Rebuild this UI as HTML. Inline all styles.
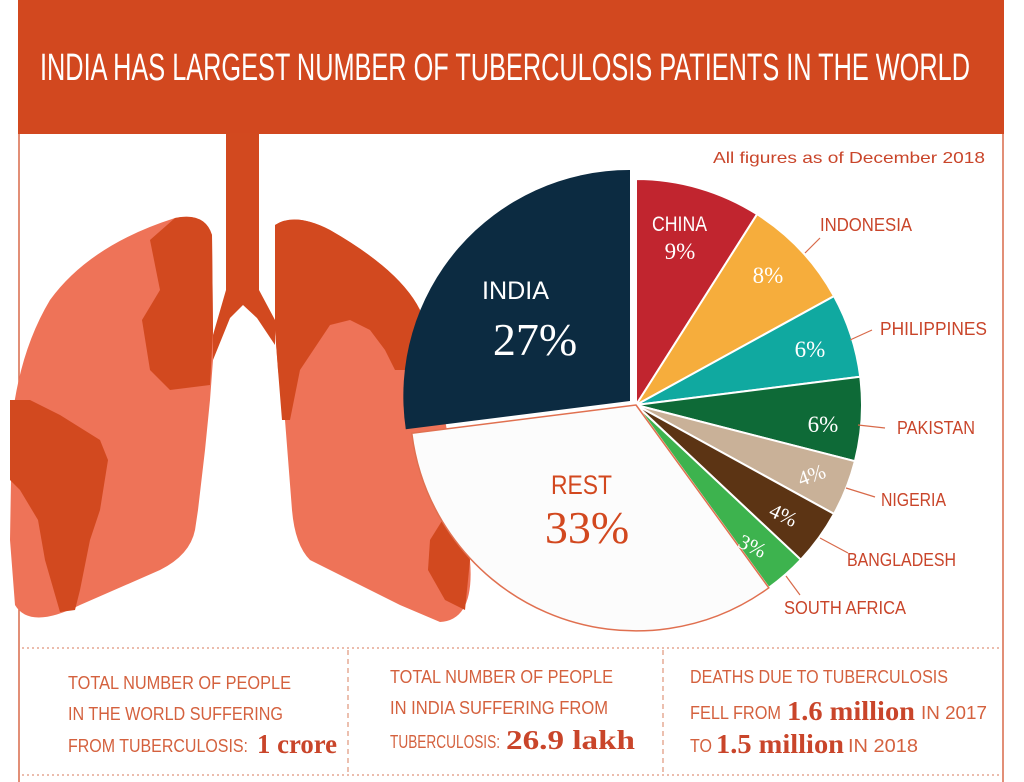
<!DOCTYPE html>
<html><head><meta charset="utf-8"><style>
html,body{margin:0;padding:0;background:#fff}
svg{display:block}
.n{font-family:"Liberation Sans Narrow","Liberation Sans",sans-serif}
.s{font-family:"Liberation Serif",serif}
</style></head><body>
<svg width="1024" height="782" viewBox="0 0 1024 782">
<rect width="1024" height="782" fill="#fff"/>
<rect x="18" y="0" width="986" height="134" fill="#d2481f"/>
<text x="505" y="80" text-anchor="middle" class="n" font-size="38" fill="#fff" textLength="930" lengthAdjust="spacingAndGlyphs">INDIA HAS LARGEST NUMBER OF TUBERCULOSIS PATIENTS IN THE WORLD</text>
<line x1="19" y1="134" x2="19" y2="782" stroke="#d86a4a" stroke-width="1.5"/>
<line x1="1003" y1="134" x2="1003" y2="782" stroke="#d86a4a" stroke-width="1.5"/>
<text x="713" y="163" class="n" font-size="16" fill="#c9452a" textLength="272" lengthAdjust="spacingAndGlyphs">All figures as of December 2018</text>

<!-- lungs -->
<rect x="226" y="133" width="33" height="170" fill="#d2491f"/>
<path d="M226 290 L213 335 L213 360 L230 318 L243 305 L257 318 L275 345 L275 320 L259 290 Z" fill="#d2491f"/>
<path d="M175 218 Q205 212 212 235 L213 330 L213 360 L210 400 L205 450 L198 510 L195 530 Q190 555 160 570 L80 605 Q30 630 15 605 L10 540 L12 420 Q20 350 50 300 Q90 245 175 218 Z" fill="#ee7358"/>
<path d="M150 240 L175 218 Q205 212 212 235 L213 330 L210 385 L170 390 L150 370 L142 320 L160 290 Z" fill="#d2491f"/>
<path d="M10 400 L30 400 L60 415 L100 440 L108 460 L100 510 L90 540 L80 590 L75 610 L60 612 L45 560 L38 520 L20 490 L10 480 Z" fill="#d2491f"/>
<path d="M275 225 Q295 212 330 230 Q400 270 420 310 Q440 380 455 480 L470 560 Q475 620 440 622 L400 605 L310 560 Q295 545 292 510 L285 420 L278 370 L275 330 Z" fill="#ee7358"/>
<path d="M275 225 Q295 212 330 230 Q400 270 420 310 L430 370 L395 370 L385 350 L370 330 L350 320 L330 325 L300 370 L290 420 L282 420 L278 370 L275 330 Z" fill="#d2491f"/>
<path d="M430 540 L455 500 L470 560 L465 610 L445 600 L428 570 Z" fill="#d2491f"/>

<!-- pie -->
<g stroke="#fff" stroke-width="2">
<path d="M636 405 L636 179 A226 226 0 0 1 757.1 214.2 Z" fill="#c1252f"/>
<path d="M636 405 L757.1 214.2 A226 226 0 0 1 834 296.1 Z" fill="#f6ad3c"/>
<path d="M636 405 L834 296.1 A226 226 0 0 1 860.2 376.7 Z" fill="#10a9a0"/>
<path d="M636 405 L860.2 376.7 A226 226 0 0 1 854.9 461.2 Z" fill="#0e6a37"/>
<path d="M636 405 L854.9 461.2 A226 226 0 0 1 834 513.9 Z" fill="#c9b198"/>
<path d="M636 405 L834 513.9 A226 226 0 0 1 800.8 559.7 Z" fill="#5c3414"/>
<path d="M636 405 L800.8 559.7 A226 226 0 0 1 768.8 587.8 Z" fill="#3db34e"/>
</g>
<path d="M636 405 L768.8 587.8 A226 226 0 0 1 411.8 433.3 Z" fill="#fcfcfc" stroke="#e07050" stroke-width="1.5"/>
<path d="M630 401 L405.8 429.3 A226 226 0 0 1 630 170 Z" fill="#0c2b41"/>

<text x="482" y="299" class="n" font-size="25" fill="#fff" textLength="67" lengthAdjust="spacingAndGlyphs">INDIA</text>
<text x="535" y="355" text-anchor="middle" class="s" font-size="46" fill="#fff">27%</text>
<text x="551" y="494" class="n" font-size="27" fill="#d2481f" textLength="61" lengthAdjust="spacingAndGlyphs">REST</text>
<text x="587" y="543" text-anchor="middle" class="s" font-size="46" fill="#d2481f">33%</text>
<text x="652" y="231" class="n" font-size="21" fill="#fff" textLength="55" lengthAdjust="spacingAndGlyphs">CHINA</text>
<text x="680" y="259" text-anchor="middle" class="s" font-size="23" fill="#fff">9%</text>
<text x="768" y="283" text-anchor="middle" class="s" font-size="23" fill="#fff">8%</text>
<text x="810" y="357" text-anchor="middle" class="s" font-size="23" fill="#fff">6%</text>
<text x="823" y="432" text-anchor="middle" class="s" font-size="23" fill="#fff">6%</text>
<text x="812" y="482" text-anchor="middle" class="s" font-size="21" fill="#fff" transform="rotate(-20 812 476)">4%</text>
<text x="783" y="522" text-anchor="middle" class="s" font-size="21" fill="#fff" transform="rotate(25 783 516)">4%</text>
<text x="752" y="553" text-anchor="middle" class="s" font-size="21" fill="#fff" transform="rotate(25 752 547)">3%</text>

<g stroke="#d86a4a" stroke-width="1.2" fill="none">
<line x1="805" y1="253" x2="820" y2="238"/>
<line x1="850" y1="340" x2="872" y2="330"/>
<line x1="858" y1="425" x2="885" y2="428"/>
<line x1="846" y1="488" x2="875" y2="497"/>
<line x1="820" y1="538" x2="848" y2="553"/>
<line x1="786" y1="576" x2="800" y2="595"/>
</g>
<g class="n" font-size="18" fill="#c9452a">
<text x="820" y="231" textLength="92" lengthAdjust="spacingAndGlyphs">INDONESIA</text>
<text x="880" y="335" textLength="107" lengthAdjust="spacingAndGlyphs">PHILIPPINES</text>
<text x="897" y="434" textLength="78" lengthAdjust="spacingAndGlyphs">PAKISTAN</text>
<text x="881" y="506" textLength="65" lengthAdjust="spacingAndGlyphs">NIGERIA</text>
<text x="847" y="566" textLength="109" lengthAdjust="spacingAndGlyphs">BANGLADESH</text>
<text x="784" y="614" textLength="122" lengthAdjust="spacingAndGlyphs">SOUTH AFRICA</text>
</g>

<!-- bottom -->
<g stroke="#e0957a" stroke-width="1.2" stroke-dasharray="2 3">
<line x1="22" y1="648" x2="1000" y2="648"/>
<line x1="22" y1="775" x2="1000" y2="775"/>
<line x1="348" y1="650" x2="348" y2="773" stroke-dasharray="5 4"/>
<line x1="663" y1="650" x2="663" y2="773" stroke-dasharray="5 4"/>
</g>
<g class="n" font-size="18" fill="#d4613e">
<text x="68" y="689" textLength="223" lengthAdjust="spacingAndGlyphs">TOTAL NUMBER OF PEOPLE</text>
<text x="68" y="720" textLength="215" lengthAdjust="spacingAndGlyphs">IN THE WORLD SUFFERING</text>
<text x="68" y="752" textLength="180" lengthAdjust="spacingAndGlyphs">FROM TUBERCULOSIS:</text>
<text x="390" y="683" textLength="223" lengthAdjust="spacingAndGlyphs">TOTAL NUMBER OF PEOPLE</text>
<text x="390" y="714" textLength="218" lengthAdjust="spacingAndGlyphs">IN INDIA SUFFERING FROM</text>
<text x="390" y="748" textLength="110" lengthAdjust="spacingAndGlyphs">TUBERCULOSIS:</text>
<text x="690" y="683" textLength="258" lengthAdjust="spacingAndGlyphs">DEATHS DUE TO TUBERCULOSIS</text>
<text x="690" y="719" textLength="91" lengthAdjust="spacingAndGlyphs">FELL FROM</text>
<text x="921" y="719" textLength="66" lengthAdjust="spacingAndGlyphs">IN 2017</text>
<text x="690" y="752" textLength="22" lengthAdjust="spacingAndGlyphs">TO</text>
<text x="848" y="752" textLength="70" lengthAdjust="spacingAndGlyphs">IN 2018</text>
</g>
<g class="s" font-size="27" font-weight="bold" fill="#c9452a">
<text x="257" y="753" textLength="80" lengthAdjust="spacingAndGlyphs">1 crore</text>
<text x="506" y="749" textLength="129" lengthAdjust="spacingAndGlyphs">26.9 lakh</text>
<text x="787" y="720" textLength="128" lengthAdjust="spacingAndGlyphs">1.6 million</text>
<text x="716" y="753" textLength="128" lengthAdjust="spacingAndGlyphs">1.5 million</text>
</g>
</svg>
</body></html>
